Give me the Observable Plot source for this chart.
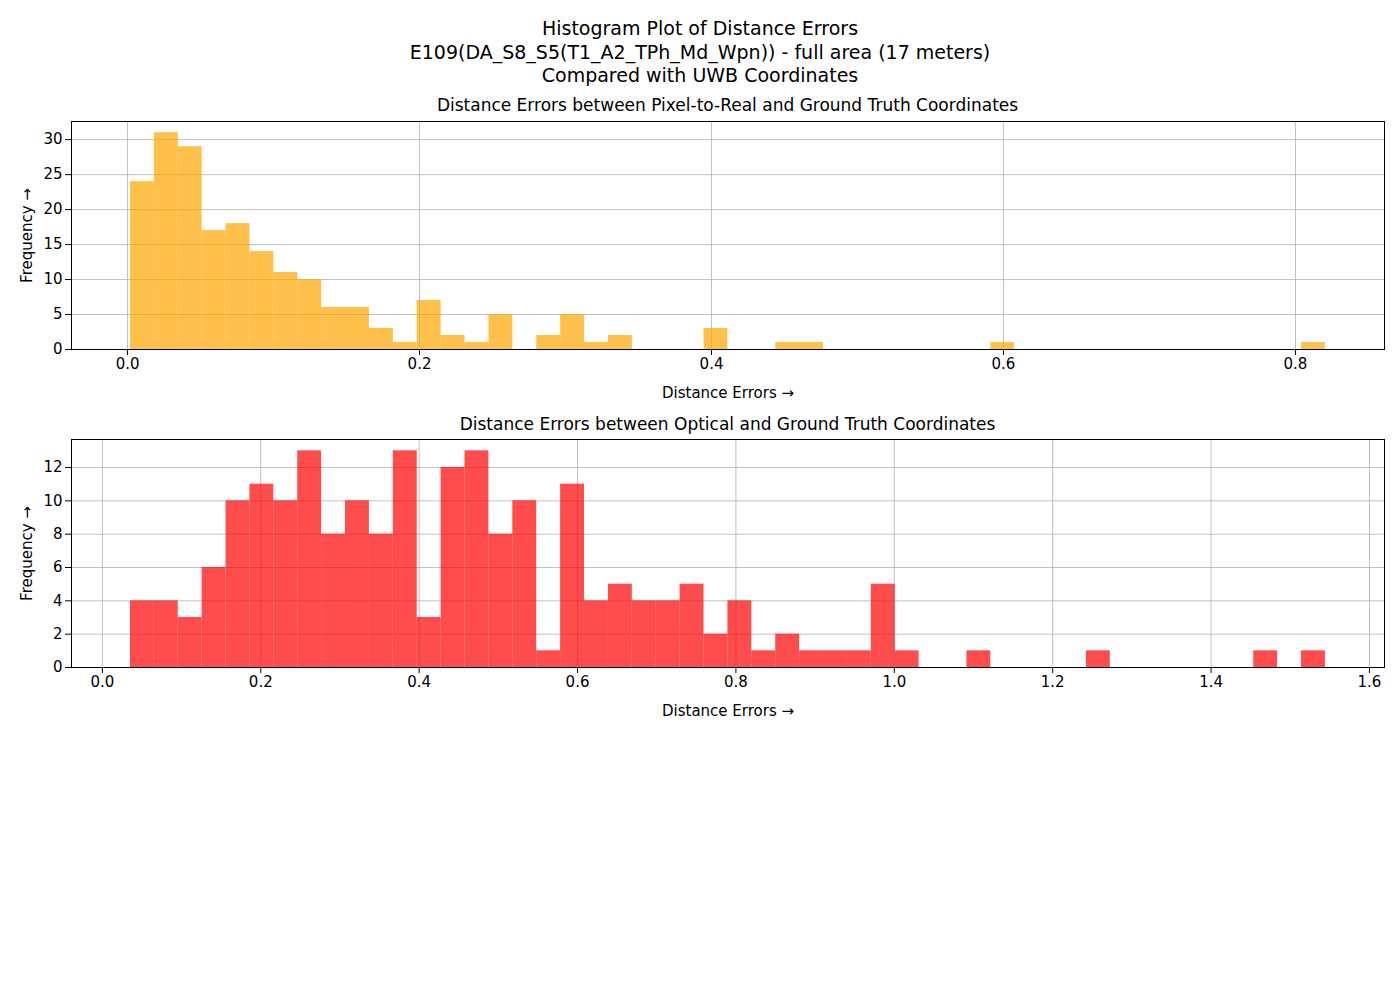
<!DOCTYPE html>
<html><head><meta charset="utf-8">
<script src="https://cdn.jsdelivr.net/npm/d3@7"></script>
<script src="https://cdn.jsdelivr.net/npm/@observablehq/plot@0.6"></script>
<style>
body{margin:0;background:#fff;font-family:"DejaVu Sans",sans-serif;}
#fig{position:relative;width:1400px;height:1000px;}
.t{position:absolute;left:0;width:1400px;text-align:center;color:#000;}
.p{position:absolute;left:0;}
</style></head><body>
<div id="fig">
  <div class="t" style="top:17px;font-size:19px;line-height:23.5px">Histogram Plot of Distance Errors<br>E109(DA_S8_S5(T1_A2_TPh_Md_Wpn)) - full area (17 meters)<br>Compared with UWB Coordinates</div>
  <div class="t" style="top:95px;font-size:17px;left:71px;width:1313px">Distance Errors between Pixel-to-Real and Ground Truth Coordinates</div>
  <div class="t" style="top:414px;font-size:17px;left:71px;width:1313px">Distance Errors between Optical and Ground Truth Coordinates</div>
  <div class="p" id="c1" style="top:121px"></div>
  <div class="p" id="c2" style="top:439px"></div>
</div>
<script>
// pixel-to-real histogram: 50 bins
const pixStart = 0.002, pixWidth = 0.01637;
const pixCounts = [24,31,29,17,18,14,11,10,6,6,3,1,7,2,1,5,0,2,5,1,2,0,0,0,3,0,0,1,1,0,0,0,0,0,0,0,1,0,0,0,0,0,0,0,0,0,0,0,0,1];
// optical histogram: 50 bins
const optStart = 0.0354, optWidth = 0.03018;
const optCounts = [4,4,3,6,10,11,10,13,8,10,8,13,3,12,13,8,10,1,11,4,5,4,4,5,2,4,1,2,1,1,1,5,1,0,0,1,0,0,0,0,1,0,0,0,0,0,0,1,0,1];

const toBins = (start, w, counts) => counts.map((c, i) => ({x1: start + i*w, x2: start + (i+1)*w, n: c}));

function hist(el, bins, color, xdom, xticks, ydom, yticks){
  const chart = Plot.plot({
    width: 1400, height: 228 + 60,
    marginLeft: 71, marginRight: 16, marginTop: 0, marginBottom: 60,
    style: {fontFamily: "DejaVu Sans, sans-serif", fontSize: "14px", color: "#000"},
    x: {domain: xdom, ticks: xticks, tickFormat: d3.format(".1f"), label: "Distance Errors", labelAnchor: "center", labelOffset: 48, tickSize: 5, tickPadding: 4},
    y: {domain: ydom, ticks: yticks, label: "Frequency", labelAnchor: "center", labelOffset: 50, tickSize: 5, tickPadding: 4},
    marks: [
      Plot.gridX(xticks, {stroke: "#b0b0b0", strokeOpacity: 1, strokeWidth: 0.8}),
      Plot.gridY(yticks, {stroke: "#b0b0b0", strokeOpacity: 1, strokeWidth: 0.8}),
      Plot.rectY(bins, {x1: "x1", x2: "x2", y: "n", fill: color, fillOpacity: 0.7, inset: 0}),
      Plot.frame({stroke: "#000"}),
      Plot.axisX(xticks, {tickFormat: d3.format(".1f"), label: "Distance Errors", labelAnchor: "center", labelOffset: 48, fontSize: 15}),
      Plot.axisY(yticks, {label: "Frequency", labelAnchor: "center", labelOffset: 50, fontSize: 15})
    ]
  });
  d3.select(el).append(() => chart);
}
hist("#c1", toBins(pixStart, pixWidth, pixCounts), "orange", [-0.0384, 0.861], [0,0.2,0.4,0.6,0.8], [0, 32.6], [0,5,10,15,20,25,30]);
hist("#c2", toBins(optStart, optWidth, optCounts), "red", [-0.039, 1.619], [0,0.2,0.4,0.6,0.8,1.0,1.2,1.4,1.6], [0, 13.68], [0,2,4,6,8,10,12]);
</script>
</body></html>
